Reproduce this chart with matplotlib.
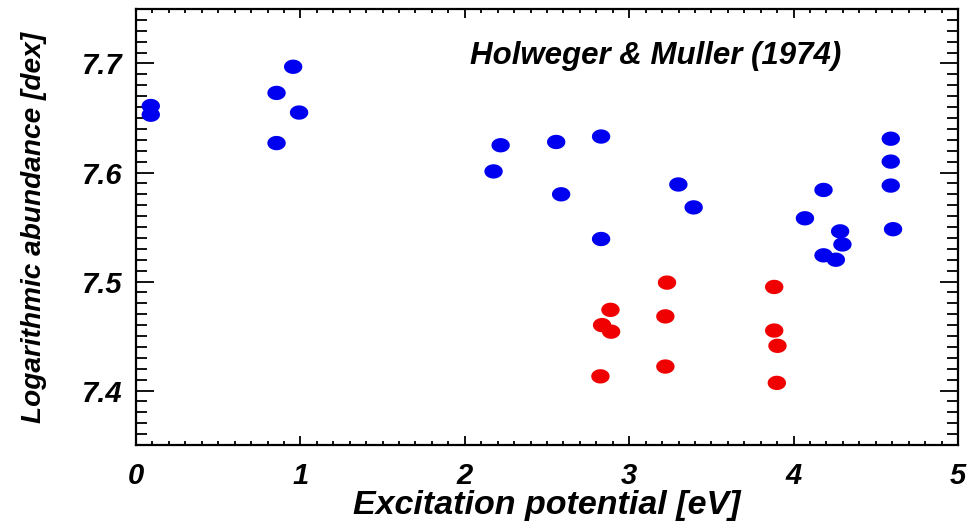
import matplotlib.pyplot as plt
import numpy as np
from matplotlib.path import Path
from matplotlib.ticker import MultipleLocator, FormatStrFormatter

# blue points (all lines)
blue_x = [0.09, 0.09, 0.855, 0.956, 0.992, 0.855,
          2.218, 2.175, 2.556, 2.829, 2.586, 2.829,
          3.299, 3.392, 4.182, 4.069, 4.283, 4.297, 4.182, 4.257,
          4.591, 4.591, 4.591, 4.605]
blue_y = [7.661, 7.653, 7.673, 7.697, 7.655, 7.627,
          7.625, 7.601, 7.628, 7.633, 7.580, 7.539,
          7.589, 7.568, 7.584, 7.558, 7.546, 7.534, 7.524, 7.520,
          7.631, 7.610, 7.588, 7.548]

# red points
red_x = [2.886, 2.835, 2.890, 2.825,
         3.23, 3.22, 3.22,
         3.882, 3.882, 3.902, 3.898]
red_y = [7.474, 7.460, 7.454, 7.413,
         7.499, 7.468, 7.422,
         7.495, 7.455, 7.441, 7.407]

plt.rcParams['font.family'] = ['Liberation Sans', 'DejaVu Sans']
plt.rcParams['font.style'] = 'italic'
plt.rcParams['font.weight'] = 'bold'

# slightly flattened ellipse marker
t = np.linspace(0, 2 * np.pi, 60)
ell = Path(np.column_stack([np.cos(t), 0.78 * np.sin(t)]))

fig = plt.figure(figsize=(9.72, 5.32), dpi=100)
ax = fig.add_axes([0.1399, 0.1635, 0.8457, 0.8196])

ax.scatter(blue_x, blue_y, s=175, marker=ell, color='#0000f0', edgecolors='none', zorder=3)
ax.scatter(red_x, red_y, s=175, marker=ell, color='#f00000', edgecolors='none', zorder=3)

ax.set_xlim(0, 5)
ax.set_ylim(7.35, 7.75)

ax.xaxis.set_major_locator(MultipleLocator(1))
ax.xaxis.set_minor_locator(MultipleLocator(0.1))
ax.yaxis.set_major_locator(MultipleLocator(0.1))
ax.yaxis.set_minor_locator(MultipleLocator(0.01))
ax.xaxis.set_major_formatter(FormatStrFormatter('%d'))
ax.yaxis.set_major_formatter(FormatStrFormatter('%.1f'))

ax.tick_params(axis='both', which='both', direction='in', top=True, right=True,
               width=1.3, colors='black', labelsize=21)
ax.tick_params(axis='x', which='major', length=6.5, pad=12)
ax.tick_params(axis='x', which='minor', length=3)
ax.tick_params(axis='y', which='major', length=13, pad=10)
ax.tick_params(axis='y', which='minor', length=8)

for s in ax.spines.values():
    s.set_linewidth(1.6)

ax.set_xlabel('Excitation potential [eV]', fontsize=24.5, fontweight='bold', labelpad=0)
ax.set_ylabel('Logarithmic abundance [dex]', fontsize=20.2, fontweight='bold', labelpad=25)

ax.text(3.162, 7.707, 'Holweger & Muller (1974)', fontsize=22.5,
        ha='center', va='center')

fig.savefig('out.png', dpi=100)
